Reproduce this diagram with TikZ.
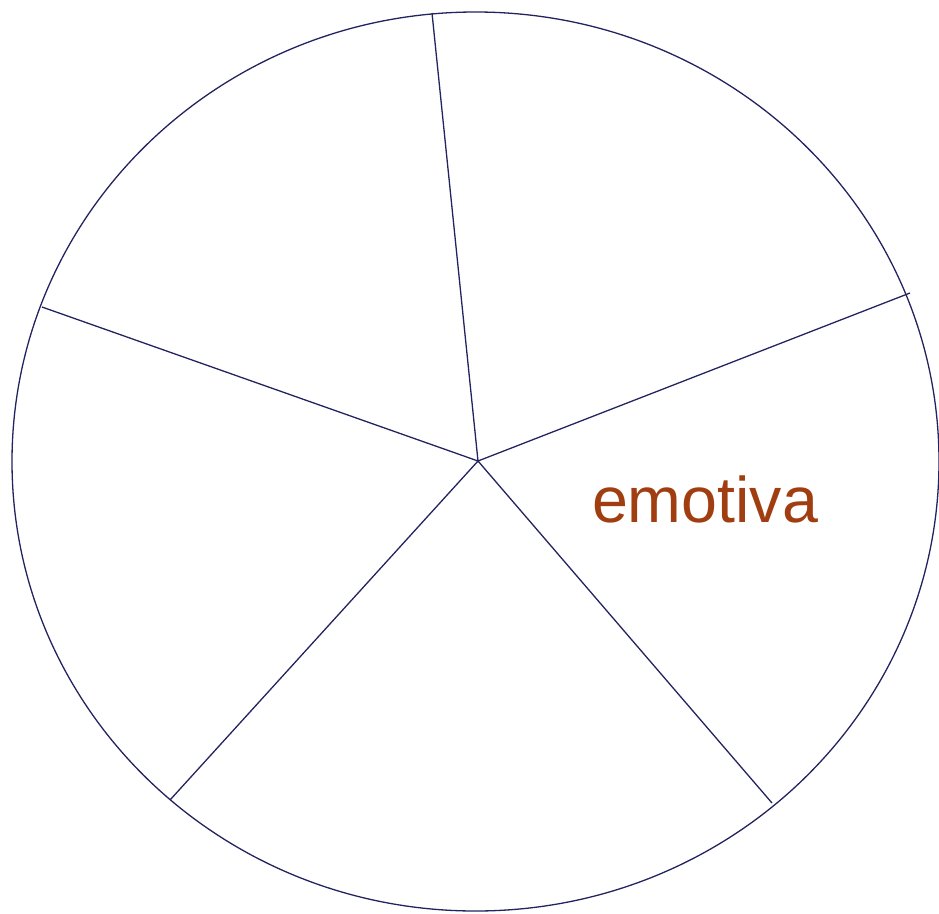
\documentclass[tikz,border=0pt]{standalone}
\usepackage{fontspec}
\setmainfont{Liberation Sans}
\definecolor{linec}{RGB}{35,35,95}
\definecolor{textc}{RGB}{160,62,18}
\begin{document}
\begin{tikzpicture}[x=1pt,y=-1pt,
  rim/.style={draw=linec,line width=1.3pt},
  spoke/.style={draw=linec,line width=1.3pt},
  label/.style={text=textc,font=\fontsize{64.5}{70}\selectfont,inner sep=0pt}]
\useasboundingbox (0,0) rectangle (939,913);
\coordinate (c) at (478,461);
\coordinate (p1) at (432,13);
\coordinate (p2) at (910,293);
\coordinate (p3) at (772,803);
\coordinate (p4) at (170,800);
\coordinate (p5) at (42,307);
\draw[rim] (475.5,461.5) ellipse [x radius=463.5, y radius=449.5];
\foreach \p in {p1,p2,p3,p4,p5} \draw[spoke] (c) -- (\p);
\node[label,anchor=base] (t) at (705,522) {emotiva};
\end{tikzpicture}
\end{document}
